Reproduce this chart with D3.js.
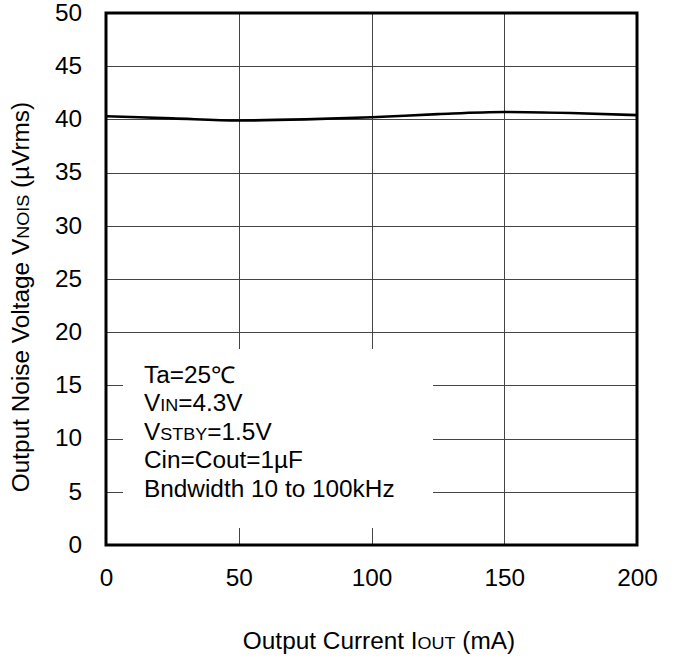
<!DOCTYPE html>
<html>
<head>
<meta charset="utf-8">
<script src="https://cdn.jsdelivr.net/npm/d3@7"></script>
<style>
  html, body { margin: 0; padding: 0; background: #fff; }
  svg { display: block; }
  text { font-family: "Liberation Sans", Arial, sans-serif; fill: #000; }
</style>
</head>
<body>
<svg id="chart" width="678" height="659"></svg>
<script>
// ---- data ----
const currentMA = [0, 25, 50, 75, 100, 125, 150, 175, 200];
const noiseUVrms = [40.3, 40.1, 39.9, 40.0, 40.2, 40.5, 40.7, 40.6, 40.4];
const xTicks = [0, 50, 100, 150, 200];
const yTicks = [0, 5, 10, 15, 20, 25, 30, 35, 40, 45, 50];
const conditionLines = [
  [["Ta=25℃", false]],
  [["V", false], ["IN", true], ["=4.3V", false]],
  [["V", false], ["STBY", true], ["=1.5V", false]],
  [["Cin=Cout=1µF", false]],
  [["Bndwidth 10 to 100kHz", false]]
];

// ---- layout ----
const svg = d3.select("#chart");
const L = 106, R = 637, T = 13, B = 545;
const x = d3.scaleLinear().domain([0, 200]).range([L, R]);
const y = d3.scaleLinear().domain([0, 50]).range([B, T]);
const FS = 23, SFS = 17, SX = 1.06;
const FONT = "'Liberation Sans', Arial, sans-serif";

// grid
const grid = svg.append("g");
grid.selectAll("line.v").data(xTicks.slice(1, -1)).join("line")
  .attr("x1", d => Math.round(x(d)) + 0.5).attr("x2", d => Math.round(x(d)) + 0.5)
  .attr("y1", T).attr("y2", B)
  .attr("stroke", "#444").attr("stroke-width", 1);
grid.selectAll("line.h").data(yTicks.slice(1, -1)).join("line")
  .attr("y1", d => Math.round(y(d)) + 0.5).attr("y2", d => Math.round(y(d)) + 0.5)
  .attr("x1", L).attr("x2", R)
  .attr("stroke", "#444").attr("stroke-width", 1);

// white box behind conditions
svg.append("rect").attr("x", 123).attr("y", 349).attr("width", 310).attr("height", 179)
  .attr("fill", "#fff");

// condition text
const cond = svg.append("g");
conditionLines.forEach((parts, i) => {
  const t = cond.append("text").attr("x", 144).attr("y", 383 + i * 28.4)
    .attr("transform", `translate(144,0) scale(${SX},1) translate(-144,0)`)
    .style("font-size", FS + "px");
  parts.forEach(([s, small]) => {
    t.append("tspan").text(s).style("font-size", (small ? SFS : FS) + "px");
  });
});

// curve
const line = d3.line().x((d, i) => x(currentMA[i])).y(d => y(d)).curve(d3.curveMonotoneX);
svg.append("path").datum(noiseUVrms).attr("d", line)
  .attr("fill", "none").attr("stroke", "#000").attr("stroke-width", 2.6);

// frame
svg.append("rect").attr("x", L).attr("y", T).attr("width", R - L).attr("height", B - T)
  .attr("fill", "none").attr("stroke", "#000").attr("stroke-width", 3);

// axes labels
const xAxis = d3.axisBottom(x).tickValues(xTicks).tickSize(0).tickPadding(25);
const gx = svg.append("g").attr("transform", `translate(0,${B})`).call(xAxis);
gx.select(".domain").remove();
gx.selectAll("text").style("font-size", FS + "px").style("font-family", FONT)
  .attr("transform", `scale(${SX},1)`);

const yAxis = d3.axisLeft(y).tickValues(yTicks).tickSize(0).tickPadding(24);
const gy = svg.append("g").attr("transform", `translate(${L},0)`).call(yAxis);
gy.select(".domain").remove();
gy.selectAll("text").style("font-size", FS + "px").style("font-family", FONT)
  .attr("transform", `translate(-24,0) scale(${SX},1) translate(24,0)`);

// axis titles
const xt = svg.append("text").attr("x", 0).attr("y", 0).attr("text-anchor", "middle")
  .attr("transform", `translate(379,649) scale(${SX},1)`)
  .style("font-size", FS + "px");
xt.append("tspan").text("Output Current I");
xt.append("tspan").text("OUT").style("font-size", SFS + "px");
xt.append("tspan").text(" (mA)");

const yt = svg.append("text").attr("x", 0).attr("y", 0)
  .attr("transform", `translate(29,297) rotate(-90) scale(${SX},1)`)
  .attr("text-anchor", "middle").style("font-size", FS + "px");
yt.append("tspan").text("Output Noise Voltage V");
yt.append("tspan").text("NOIS").style("font-size", SFS + "px");
yt.append("tspan").text(" (µVrms)");
</script>
</body>
</html>
